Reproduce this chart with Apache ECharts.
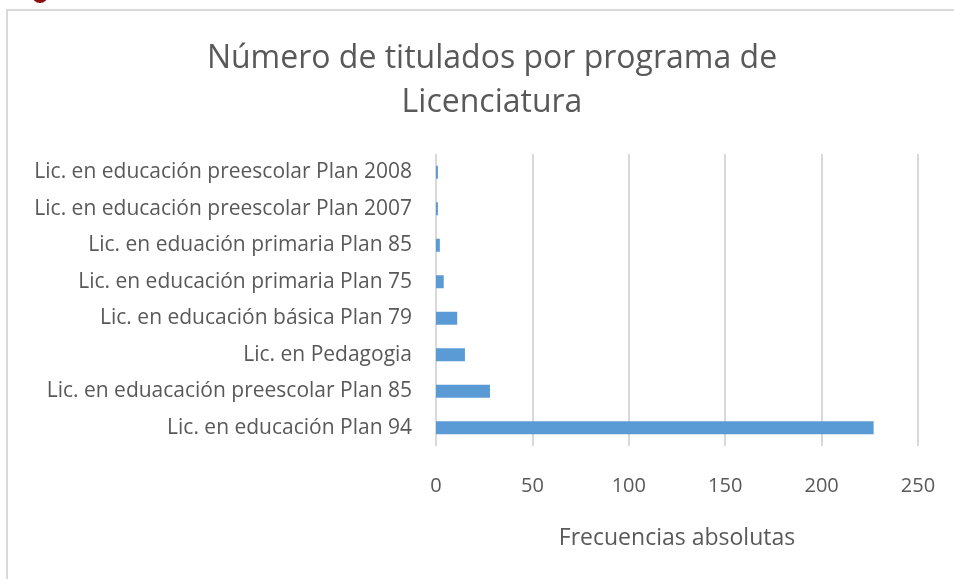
<!DOCTYPE html>
<html>
<head>
<meta charset="utf-8">
<script src="https://cdn.jsdelivr.net/npm/echarts@6/dist/echarts.min.js"></script>
<style>html,body{margin:0;padding:0;background:#fff}#c{width:954px;height:579px}</style>
</head>
<body>
<div id="c"></div>
<script>
const categories = [
  "Lic. en educación preescolar Plan 2008",
  "Lic. en educación preescolar Plan 2007",
  "Lic. en eduación primaria Plan 85",
  "Lic. en educación primaria Plan 75",
  "Lic. en educación básica Plan 79",
  "Lic. en Pedagogia",
  "Lic. en eduacación preescolar Plan 85",
  "Lic. en educación Plan 94"
];
const values = [1, 1, 2, 4, 11, 15, 28, 227];
const titleText = "Número de titulados por programa de\nLicenciatura";
const axisName = "Frecuencias absolutas";

const chart = echarts.init(document.getElementById('c'), null, {renderer: 'canvas'});
const font = '"Open Sans", Lato, sans-serif';
chart.setOption({
  animation: false,
  textStyle: {fontFamily: font},
  title: {
    text: titleText,
    left: 487,
    top: 32,
    textAlign: 'center',
    textStyle: {fontSize: 32, fontWeight: 'normal', color: '#595959', lineHeight: 44, fontFamily: font}
  },
  graphic: [
    {type: 'rect', shape: {x: 7, y: 10, width: 1000, height: 700}, style: {fill: 'none', stroke: '#d9d9d9', lineWidth: 2}, silent: true},
    {type: 'circle', shape: {cx: 40, cy: -5, r: 8}, style: {fill: '#8b1010'}, silent: true}
  ],
  grid: {left: 436, right: 36, top: 154, bottom: 133, containLabel: false},
  xAxis: {
    type: 'value', min: 0, max: 250, interval: 50,
    name: axisName, nameLocation: 'middle', nameGap: 81,
    nameTextStyle: {fontSize: 23, color: '#595959', fontFamily: font},
    axisLine: {show: false}, axisTick: {show: false},
    axisLabel: {fontSize: 20, color: '#595959', margin: 30, fontFamily: font},
    splitLine: {show: true, lineStyle: {color: '#d9d9d9', width: 2}}
  },
  yAxis: {
    type: 'category', data: categories, inverse: true,
    axisLine: {show: false}, axisTick: {show: false},
    axisLabel: {fontSize: 21, color: '#595959', margin: 24, fontFamily: font}
  },
  series: [{
    type: 'bar', data: values, barWidth: 13,
    itemStyle: {color: '#5b9bd5'}
  }]
});
</script>
</body>
</html>
